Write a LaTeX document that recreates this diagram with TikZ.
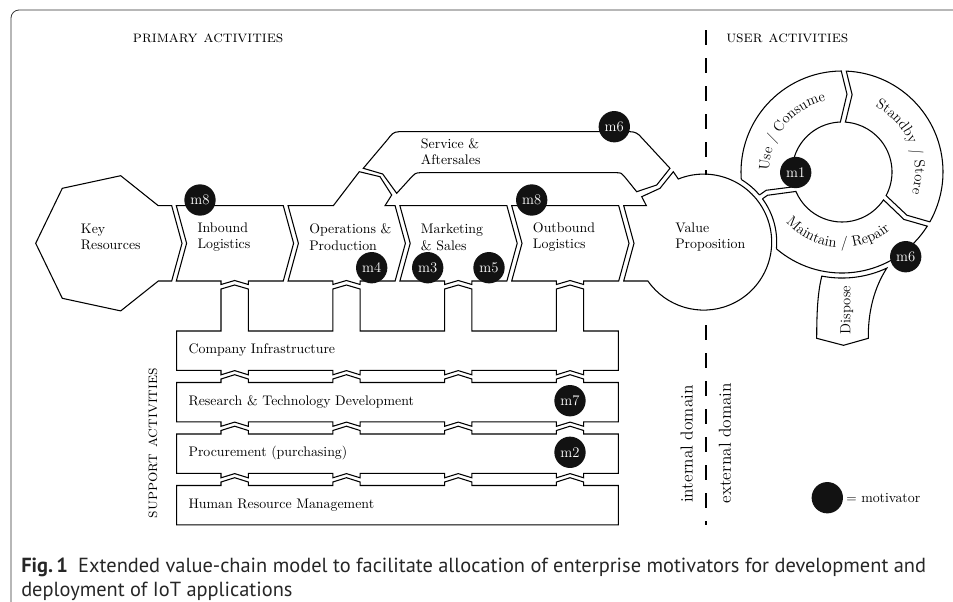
\documentclass[tikz,border=0pt]{standalone}
\usepackage{fontspec}
\newfontfamily\capfont{PT Sans}
\usetikzlibrary{calc,decorations.text}
\newcommand{\lblfont}{\fontsize{10.4}{12.5}\selectfont}
\newcommand{\ringfont}{\fontsize{11}{13}\selectfont}
\newcommand{\headfont}{\fontsize{12.2}{14}\selectfont}

\begin{document}
\begin{tikzpicture}[x=0.75pt,y=0.75pt,yscale=-1,xscale=1,
  shapeline/.style={line width=0.8pt,line join=miter},
  lbl/.style={inner sep=0pt,align=left,anchor=west,font=\lblfont},
  motiv/.style={circle,fill=black!93,text=white,minimum size=23.5pt,inner sep=0pt,font=\fontsize{11}{13}\selectfont},
  sidelbl/.style={inner sep=0pt,font=\lblfont,rotate=90},
  domainline/.style={line width=0.8pt,dash pattern=on 11pt off 10pt}]
\useasboundingbox (0,0) rectangle (953,601);

%Shape: frame
\draw [line width=0.6pt,black!80] (960,10) -- (19,10) .. controls (14.6,10) and (11,13.6) .. (11,18) -- (11,610);

%Shape: Key Resources
\draw [shapeline] (35.7,243.3) -- (62.3,188.3) -- (120.7,175.7) -- (158.3,205.7) -- (171.7,205.7) -- (182,243.3) -- (171.7,281) -- (158.3,281) -- (120.7,310.9) -- (62.3,298.3) -- cycle;

%Shape: chain activities (inbound, marketing, outbound)
\foreach \L in {176.3,399.9,511.7}{
  \draw [shapeline] (\L,205.7) -- (\L+107,205.7) -- (\L+117.3,243.3) -- (\L+107,281) -- (\L+72,281) -- (\L+72,284.5) -- (\L+58.35,280.5) -- (\L+44.7,284.5) -- (\L+44.7,281) -- (\L,281) -- (\L+10.3,243.3) -- cycle;
}
%Shape: operations with branch
\draw [shapeline] (288.1,205.7) -- (333.3,205.7) -- (359.3,171.7) -- (380,176.7) -- (391.7,195) -- (385,205.7) -- (395.1,205.7) -- (405.4,243.3) -- (395.1,281) -- (360.1,281) -- (360.1,284.5) -- (346.45,280.5) -- (332.8,284.5) -- (332.8,281) -- (288.1,281) -- (298.4,243.3) -- cycle;

%Shape: service banner
\draw [shapeline] (363.3,168.3) -- (388,139) .. controls (391,135) and (393,131.7) .. (399,131.7) -- (630,131.7) .. controls (635,131.7) and (638,133.5) .. (641,137) -- (670,168.3) -- (656.7,185) -- (636.7,191.7) -- (624,176) .. controls (622,173.5) and (621,172.7) .. (617,172.7) -- (420,172.7) .. controls (416,172.7) and (414,174) .. (412,176.5) -- (396.7,193.3) -- (382.7,174) -- cycle;

%Shape: value proposition
\coordinate (vpc) at (703.7,242.1);
\draw [shapeline] (623.7,205.7) -- (646.4,205.7) -- (641.7,196.7) -- (660,188.3) -- (673.3,171.7) -- (678.3,179) arc[start angle=-111.9,end angle=145.1,radius=68] -- (623.7,281) -- (634,243.3) -- cycle;

%Shape: company infrastructure
\draw [shapeline] (176.7,331) \foreach \a in {221,332.8,444.6,556.4}{ -- (\a,331) -- (\a,289) -- (\a+13.65,285) -- (\a+27.3,289) -- (\a+27.3,331) } -- (618.3,331) -- (618.3,370.3) \foreach \a in {556.4,444.6,332.8,221}{ -- (\a+27.3,370.3) -- (\a+27.3,374.8) -- (\a+13.65,370.6) -- (\a,374.8) -- (\a,370.3) } -- (176.7,370.3) -- cycle;
%Shape: support bars
\foreach \t in {382.5,434}{
  \draw [shapeline] (176.7,\t) \foreach \a in {221,332.8,444.6,556.4}{ -- (\a,\t) -- (\a,\t-3.5) -- (\a+13.65,\t-7.8) -- (\a+27.3,\t-3.5) -- (\a+27.3,\t) } -- (618.3,\t) -- (618.3,\t+39.3) \foreach \a in {556.4,444.6,332.8,221}{ -- (\a+27.3,\t+39.3) -- (\a+27.3,\t+43.8) -- (\a+13.65,\t+39.6) -- (\a,\t+43.8) -- (\a,\t+39.3) } -- (176.7,\t+39.3) -- cycle;
}
\draw [shapeline] (176.7,485.5) \foreach \a in {221,332.8,444.6,556.4}{ -- (\a,485.5) -- (\a,482) -- (\a+13.65,477.7) -- (\a+27.3,482) -- (\a+27.3,485.5) } -- (618.3,485.5) -- (618.3,524.8) -- (176.7,524.8) -- cycle;

%Shape: domain border
\draw [domainline] (706,30) -- (706,174.5);
\draw [domainline] (706,325) -- (706,525);

%Shape: user activity ring
\def\segUse{(162.87:50) -- (166.45:78) -- (161.42:101) arc[start angle=161.42,end angle=269.58,radius=101] -- (273.65:78) -- (268.13:50) arc[start angle=268.13,end angle=162.87,radius=50] -- cycle}
\def\segStandby{(273.87:50) -- (277.45:78) -- (272.42:101) arc[start angle=272.42,end angle=389.58,radius=101] -- (393.65:78) -- (388.13:50) arc[start angle=388.13,end angle=273.87,radius=50] -- cycle}
\def\segMaintain{(33.87:50) -- (37.45:78) -- (32.42:101) arc[start angle=32.42,end angle=158.58,radius=101] -- (162.65:78) -- (157.13:50) arc[start angle=157.13,end angle=33.87,radius=50] -- cycle}
\begin{scope}[shift={(842,172)}]
  \begin{scope}[even odd rule]
    \clip (-842,-172) rectangle (111,429) (vpc) circle (73);
    \draw [shapeline] \segUse;
    \draw [shapeline] \segStandby;
    \draw [shapeline] \segMaintain;
  \end{scope}
  \begin{scope}
    \clip \segUse;
    \draw [shapeline] (vpc) circle (73);
  \end{scope}
  \begin{scope}
    \clip \segMaintain;
    \draw [shapeline] (vpc) circle (73);
  \end{scope}
  % ring labels
  \path [decorate,decoration={text along path,text align=center,text={|\ringfont|Use / Consume}}] (174:73) arc[start angle=174,end angle=264,radius=73];
  \path [decorate,decoration={text along path,text align=center,text={|\ringfont|Standby / Store}}] (292:73) arc[start angle=292,end angle=382,radius=73];
  \path [decorate,decoration={text along path,text align=center,text={|\ringfont|Maintain / Repair}}] (139:75.5) arc[start angle=139,end angle=49,radius=75.5];
\end{scope}

%Shape: dispose
\draw [shapeline] (886.8,268.1) arc[start angle=65,end angle=101,radius=106] .. controls (818.5,290) and (816.7,305) .. (816.7,338.3) -- (843.5,345.3) -- (868.3,338.3) .. controls (868,312) and (874,288) .. cycle;

% Text Node
\node [lbl,font=\headfont] (primary) at (132.7,38.3) {\textsc{primary activities}};
\node [lbl,font=\headfont] (user) at (726,38.3) {\textsc{user activities}};
\node [sidelbl,font=\headfont] (support) at (153,443) {\textsc{support activities}};
\node [lbl] (key) at (80.7,237) {Key\\Resources};
\node [lbl] (inbound) at (197.3,237) {Inbound\\Logistics};
\node [lbl] (ops) at (309,237) {Operations \&\\Production};
\node [lbl] (mkt) at (420.7,237) {Marketing\\\& Sales};
\node [lbl] (outbound) at (532.7,237) {Outbound\\Logistics};
\node [lbl] (vp) at (675,237) {Value\\Proposition};
\node [lbl] (service) at (420.7,151.7) {Service \&\\Aftersales};
\node [lbl,anchor=base west] (infra) at (188.3,353.5) {Company Infrastructure};
\node [lbl,anchor=base west] (rtd) at (188.3,405) {Research \& Technology Development};
\node [lbl,anchor=base west] (proc) at (188.3,456.5) {Procurement (purchasing)};
\node [lbl,anchor=base west] (hrm) at (188.3,508) {Human Resource Management};
\node [sidelbl,font=\ringfont] (dispose) at (846.7,310) {Dispose};
\node [sidelbl,font=\fontsize{13}{15}\selectfont] (internal) at (686.7,444) {internal domain};
\node [sidelbl,font=\fontsize{13}{15}\selectfont] (external) at (725,443) {external domain};

% Motivators
\node [motiv] (m8in) at (200,200) {m8};
\node [motiv] (m4) at (371.7,267.7) {m4};
\node [motiv] (m3) at (427.7,267.7) {m3};
\node [motiv] (m5) at (489,267.7) {m5};
\node [motiv] (m8out) at (531.7,200) {m8};
\node [motiv] (m6srv) at (614.3,126.7) {m6};
\node [motiv] (m1) at (795.7,172.5) {m1};
\node [motiv] (m6dis) at (905.7,256.7) {m6};
\node [motiv] (m7) at (570,400.7) {m7};
\node [motiv] (m2) at (570,452.3) {m2};
\node [motiv] (legdot) at (827.3,497.7) {};
\node [lbl] (legtxt) at (846,497.7) {$=$ motivator};

% Caption
\node [anchor=west,inner sep=0pt,text=black!85,font=\capfont\fontsize{15.3}{18}\selectfont] (cap1) at (21,567) {\textbf{Fig.\,1}\enspace Extended value-chain model to facilitate allocation of enterprise motivators for development and};
\node [anchor=west,inner sep=0pt,text=black!85,font=\capfont\fontsize{15.3}{18}\selectfont] (cap2) at (21,591) {deployment of IoT applications};
\end{tikzpicture}
\end{document}
